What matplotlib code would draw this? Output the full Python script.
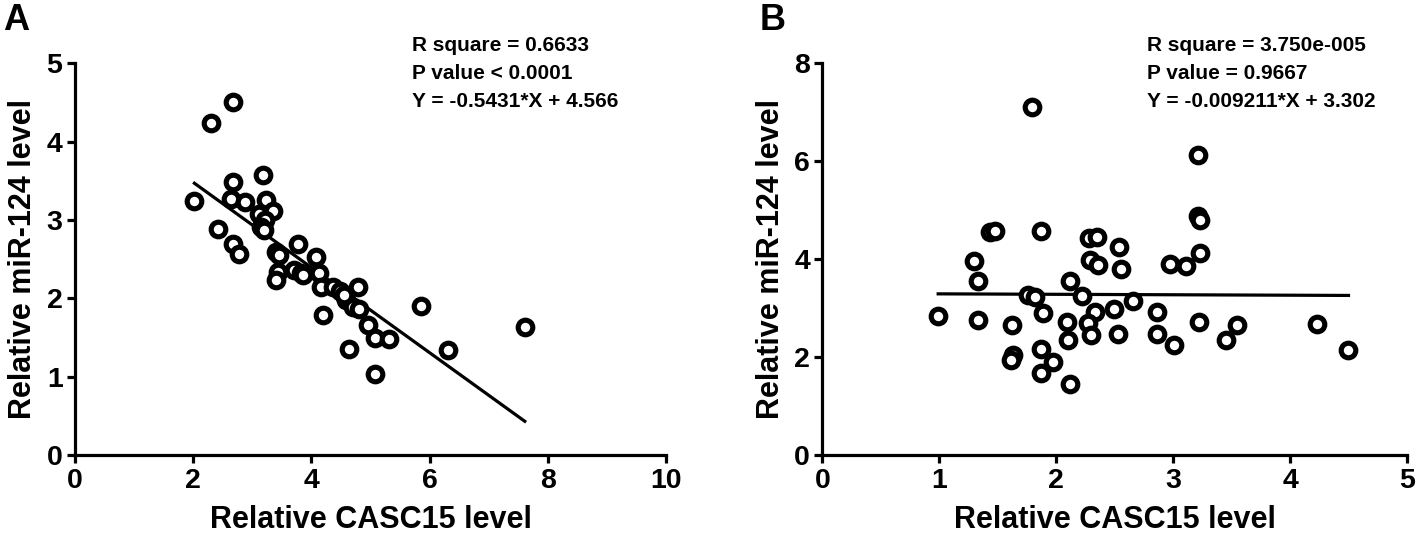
import matplotlib
matplotlib.use('Agg')
import matplotlib.pyplot as plt
import numpy as np

# Panel A: CASC15 vs miR-124 (negative correlation)
casc15_a = [2.02, 2.30, 2.67, 2.67, 2.64, 2.87, 2.42, 2.67, 2.78,
            3.18, 3.23, 3.35, 3.12, 3.21, 3.15, 3.19,
            3.40, 3.43, 3.40, 3.77, 3.71, 3.83, 3.85,
            4.08, 4.12, 4.17, 4.36, 4.48, 4.59, 4.70,
            4.79, 4.81, 4.19, 4.95, 5.08, 5.31, 4.64,
            5.07, 5.86, 6.31, 7.61, 4.55, 3.45]
mir124_a = [3.24, 4.24, 4.51, 3.49, 3.27, 3.23, 2.89, 2.70, 2.57,
            3.57, 3.25, 3.12, 3.08, 3.00, 2.91, 2.87,
            2.59, 2.34, 2.23, 2.70, 2.36, 2.32, 2.30,
            2.53, 2.32, 2.14, 2.14, 2.09, 1.98, 1.89,
            2.15, 1.87, 1.79, 1.66, 1.50, 1.48, 1.36,
            1.03, 1.90, 1.34, 1.64, 2.04, 2.55]
fit_a = (-0.5431, 4.566)
stats_a = ['R square = 0.6633', 'P value < 0.0001', 'Y = -0.5431*X + 4.566']

# Panel B: no correlation
casc15_b = [1.43, 1.48, 1.87, 2.28, 2.35, 2.54, 1.30, 2.29, 2.36, 2.55,
            1.33, 2.12, 1.76, 1.82, 2.22, 2.66, 2.86, 0.99, 1.89, 2.33,
            2.49, 1.33, 2.09, 2.27, 1.62, 2.30, 2.53, 2.86, 2.10, 1.87,
            1.97, 1.63, 1.61, 1.87, 2.12, 1.79, 3.21, 3.21, 3.23, 3.23,
            2.97, 3.11, 3.01, 3.22, 3.55, 3.45, 4.23, 4.50]
mir124_b = [4.55, 4.57, 4.57, 4.44, 4.45, 4.25, 3.96, 3.99, 3.89, 3.79,
            3.56, 3.56, 3.26, 3.22, 3.24, 3.14, 2.92, 2.84, 2.90, 2.93,
            2.99, 2.76, 2.71, 2.69, 2.66, 2.46, 2.47, 2.47, 2.35, 2.16,
            1.91, 2.04, 1.94, 1.68, 1.46, 7.10, 6.13, 4.88, 4.79, 4.12,
            3.90, 3.86, 2.25, 2.71, 2.66, 2.35, 2.68, 2.15]
fit_b = (-0.009211, 3.302)
stats_b = ['R square = 3.750e-005', 'P value = 0.9667', 'Y = -0.009211*X + 3.302']

plt.rcParams.update({
    'font.family': 'Liberation Sans',
    'font.weight': 'bold',
    'axes.linewidth': 2.3,
    'xtick.major.width': 2.3,
    'ytick.major.width': 2.3,
    'xtick.major.size': 6,
    'ytick.major.size': 6,
})

fig = plt.figure(figsize=(14.18, 5.4), dpi=100)
ax_a = fig.add_axes([0.0529, 0.157, 0.4168, 0.726])
ax_b = fig.add_axes([0.5800, 0.157, 0.4122, 0.726])

panels = [
    (ax_a, casc15_a, mir124_a, fit_a, stats_a, (0, 10), [0, 2, 4, 6, 8, 10], (0, 5), [0, 1, 2, 3, 4, 5], 0.570),
    (ax_b, casc15_b, mir124_b, fit_b, stats_b, (0, 5), [0, 1, 2, 3, 4, 5], (0, 8), [0, 2, 4, 6, 8], 0.555),
]

for ax, xs, ys, fit, stats, xlim, xt, ylim, yt, tx in panels:
    xs, ys = np.array(xs), np.array(ys)
    ax.plot(xs, ys, 'o', ls='none', mfc='white', mec='black', ms=10.5, mew=3.7, zorder=3)
    lx = np.array([xs.min(), xs.max()])
    ax.plot(lx, fit[0] * lx + fit[1], color='black', lw=2.3, zorder=2)

    ax.set_xlim(*xlim)
    ax.set_ylim(*ylim)
    ax.set_xticks(xt)
    ax.set_yticks(yt)
    ax.tick_params(labelsize=20.5, pad=3)
    ax.spines['top'].set_visible(False)
    ax.spines['right'].set_visible(False)
    ax.set_xlabel('Relative CASC15 level', fontsize=22, fontweight='bold', labelpad=8)
    ax.set_ylabel('Relative miR-124 level', fontsize=22, fontweight='bold', labelpad=6)

    for i, s in enumerate(stats):
        ax.text(tx, 1.046 - i * 0.0715, s, transform=ax.transAxes, fontsize=15,
                fontweight='bold', ha='left', va='center')

fig.text(0.002, 0.995, 'A', fontsize=26, fontweight='bold', ha='left', va='top')
fig.text(0.536, 0.995, 'B', fontsize=26, fontweight='bold', ha='left', va='top')

fig.savefig('out.png', dpi=100, facecolor='white')
